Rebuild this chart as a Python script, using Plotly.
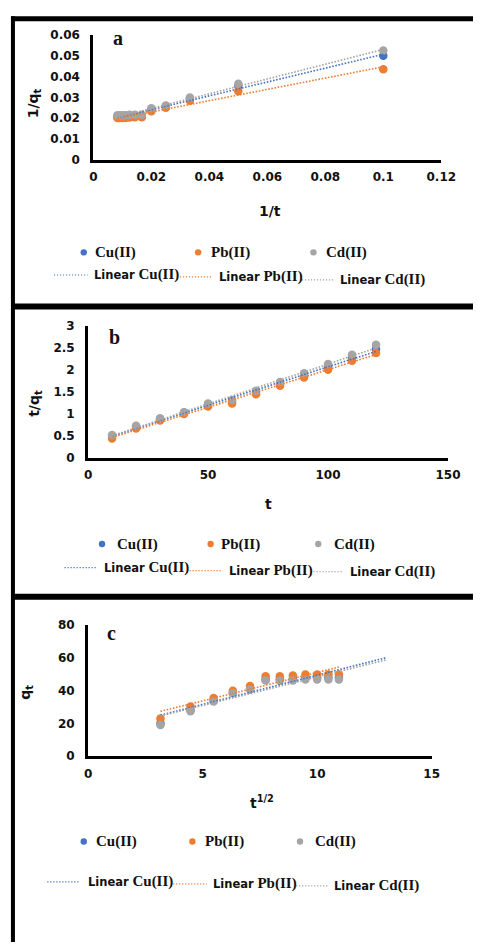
import numpy as np
import plotly.graph_objects as go

W, H = 488, 949

# ---------------- data ----------------
series_names = ["Cu(II)", "Pb(II)", "Cd(II)"]
series_colors = ["#4472C4", "#ED7D31", "#A5A5A5"]

# panel a : 1/qt vs 1/t
inv_t = [0.1, 0.05, 0.0333, 0.025, 0.02, 0.0167, 0.0143, 0.0125, 0.0111, 0.01, 0.0091, 0.0083]
inv_q_cu = [0.0500, 0.0355, 0.0295, 0.0259, 0.0244, 0.0213, 0.0213, 0.0211, 0.0208, 0.0208, 0.0208, 0.0208]
inv_q_pb = [0.0435, 0.0330, 0.0284, 0.0250, 0.0233, 0.0205, 0.0205, 0.0203, 0.0201, 0.0201, 0.0201, 0.0201]
inv_q_cd = [0.0526, 0.0366, 0.0300, 0.0261, 0.0248, 0.0217, 0.0217, 0.0216, 0.0214, 0.0214, 0.0214, 0.0214]

# panel b : t/qt vs t
t_vals = [10, 20, 30, 40, 50, 60, 70, 80, 90, 100, 110, 120]
tq_cu = [0.50, 0.71, 0.88, 1.03, 1.22, 1.28, 1.49, 1.69, 1.87, 2.08, 2.29, 2.48]
tq_pb = [0.44, 0.67, 0.85, 1.00, 1.17, 1.24, 1.45, 1.64, 1.83, 2.01, 2.21, 2.39]
tq_cd = [0.52, 0.73, 0.90, 1.04, 1.24, 1.32, 1.53, 1.73, 1.93, 2.14, 2.35, 2.58]

# panel c : qt vs t^1/2
sqrt_t = [3.16, 4.47, 5.48, 6.32, 7.07, 7.75, 8.37, 8.94, 9.49, 10.0, 10.49, 10.95]
q_cu = [20.0, 28.2, 33.8, 38.8, 41.0, 47.0, 47.0, 47.3, 48.0, 48.0, 48.0, 48.0]
q_pb = [23.1, 30.4, 35.5, 40.0, 42.8, 48.8, 48.8, 49.2, 49.8, 49.8, 49.8, 49.8]
q_cd = [19.1, 27.4, 33.4, 38.5, 40.5, 46.2, 46.0, 46.2, 46.8, 46.8, 46.8, 46.8]

# trendline forward forecast (panel c, Cu & Cd extend to 13)
forecast_c = [2.05, 0.0, 2.05]

panel_letters = ["a", "b", "c"]
x_titles = ["1/t", "t", "t<sup>1/2</sup>"]
y_titles = ["1/q<sub>t</sub>", "t/q<sub>t</sub>", "q<sub>t</sub>"]
x_ranges = [[0, 0.12], [0, 150], [0, 15]]
y_ranges = [[0, 0.06], [0, 3], [0, 80]]
x_dticks = [0.02, 50, 5]
y_dticks = [0.01, 0.5, 20]

panels = [
    (inv_t, [inv_q_cu, inv_q_pb, inv_q_cd], [0, 0, 0]),
    (t_vals, [tq_cu, tq_pb, tq_cd], [0, 0, 0]),
    (sqrt_t, [q_cu, q_pb, q_cd], forecast_c),
]

# ---------------- layout geometry (pixels) ----------------
def fx(p):
    return p / W

def fy(p):
    return 1 - p / H

dom_x = [(93, 455), (87.5, 462), (87.5, 445)]
dom_y = [(28.5, 155), (324, 457.5), (627.3, 760.5)]  # top, bottom in px

fig = go.Figure()

tick_font = dict(family="DejaVu Sans", size=12, color="#111111", weight="bold")

for i, (xv, ys, fwd) in enumerate(panels):
    xa = "x" if i == 0 else f"x{i+1}"
    ya = "y" if i == 0 else f"y{i+1}"
    # markers
    for name, col, yv in zip(series_names, series_colors, ys):
        fig.add_trace(go.Scatter(x=xv, y=yv, mode="markers", name=name,
                                 marker=dict(color=col, size=8.5),
                                 xaxis=xa, yaxis=ya, showlegend=False))
    # linear trendlines
    for name, col, yv, f in zip(series_names, series_colors, ys, fwd):
        k, b = np.polyfit(np.array(xv, float), np.array(yv, float), 1)
        x0, x1 = min(xv), max(xv) + f
        fig.add_trace(go.Scatter(x=[x0, x1], y=[k * x0 + b, k * x1 + b], mode="lines",
                                 name="Linear " + name,
                                 line=dict(color=col, width=1.6, dash="1.6px,1.6px"),
                                 xaxis=xa, yaxis=ya, showlegend=False))
    axk = "" if i == 0 else str(i + 1)
    fig.update_layout(**{
        "xaxis" + axk: dict(domain=[fx(dom_x[i][0]), fx(dom_x[i][1])], range=x_ranges[i],
                            dtick=x_dticks[i], tick0=0, showline=True, linewidth=3,
                            linecolor="black", showgrid=False, zeroline=False, ticks="",
                            tickfont=tick_font, anchor=ya, ticklabelstandoff=4,
                            fixedrange=True),
        "yaxis" + axk: dict(domain=[fy(dom_y[i][1]), fy(dom_y[i][0])], range=y_ranges[i],
                            dtick=y_dticks[i], tick0=0, showline=True, linewidth=3,
                            linecolor="black", showgrid=False, zeroline=False, ticks="",
                            tickfont=tick_font, anchor=xa, ticklabelstandoff=8,
                            fixedrange=True),
    })

annotations = []
shapes = []

def ann(x, y, text, size, family="DejaVu Sans", angle=0, xanchor="center"):
    annotations.append(dict(x=fx(x), y=fy(y), xref="paper", yref="paper", text=text,
                            showarrow=False, textangle=angle, xanchor=xanchor,
                            yanchor="middle",
                            font=dict(family=family, size=size, color="#111111",
                                      weight="bold")))

# axis titles and panel letters
title_pos_y = [(31, 98), (32, 402), (23, 696)]
title_pos_x = [(277, 207), (275, 504), (268, 807)]
letter_pos = [(118.5, 31.5), (115, 335), (112, 635.5)]
for i in range(3):
    ann(*title_pos_y[i], y_titles[i], 14, angle=-90)
    ann(*title_pos_x[i], x_titles[i], 14)
    ann(*letter_pos[i], panel_letters[i], 20, family="Liberation Serif")

# legends (drawn manually, two rows per panel)
leg_row1_y = [249, 545, 847]
leg_marker_x = [(83, 202, 322), (102, 215, 327), (83, 196, 308)]
leg_text1_x = [(93, 213, 333), (115, 224, 341), (94, 207, 321)]
leg_line = [
    [(52, 87, 272), (183, 217, 274), (310, 343, 277)],
    [(63, 97, 569), (193, 227, 572), (322, 353, 573)],
    [(45, 79, 888), (176, 211, 890), (304, 337, 892)],
]
leg_text2_x = [(92, 222, 348), (102, 232, 358), (85, 215, 341)]

for p in range(3):
    for s in range(3):
        col = series_colors[s]
        mx = leg_marker_x[p][s]
        my = leg_row1_y[p]
        shapes.append(dict(type="circle", xref="paper", yref="paper", xsizemode="pixel",
                           ysizemode="pixel", xanchor=fx(mx), yanchor=fy(my),
                           x0=-3.2, x1=3.2, y0=-3.2, y1=3.2,
                           fillcolor=col, line=dict(width=0)))
        ann(leg_text1_x[p][s], my + 0.5, series_names[s], 15,
            family="Liberation Serif", xanchor="left")
        lx0, lx1, ly = leg_line[p][s]
        shapes.append(dict(type="line", xref="paper", yref="paper", x0=fx(lx0), x1=fx(lx1),
                           y0=fy(ly), y1=fy(ly),
                           line=dict(color=col, width=1.2, dash="1.2px,1.8px")))
        ann(leg_text2_x[p][s], ly,
            "<span style='font-family:DejaVu Sans;font-size:11.5px'>Linear</span> "
            + series_names[s], 15, family="Liberation Serif", xanchor="left")

# panel frame borders
def hline(y, x0, x1, w):
    shapes.append(dict(type="line", xref="paper", yref="paper", x0=fx(x0), x1=fx(x1),
                       y0=fy(y), y1=fy(y), line=dict(color="black", width=w)))

hline(12, 7.3, 488, 5)
hline(304, 9, 488, 6)
hline(598.5, 9, 488, 6)
shapes.append(dict(type="line", xref="paper", yref="paper", x0=fx(9.3), x1=fx(9.3),
                   y0=fy(9.5), y1=0, line=dict(color="black", width=4)))

fig.update_layout(
    width=W, height=H, margin=dict(l=0, r=0, t=0, b=0),
    paper_bgcolor="white", plot_bgcolor="white",
    showlegend=False, annotations=annotations, shapes=shapes,
)

fig.write_html("out.html", config={"displayModeBar": False})
